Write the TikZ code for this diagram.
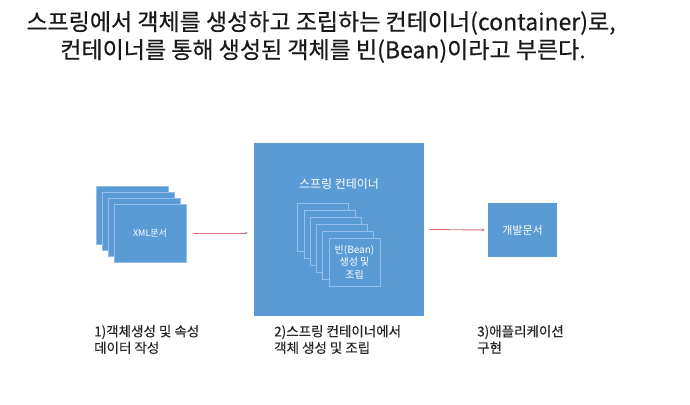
\documentclass[tikz,border=0pt]{standalone}
\usepackage{fontspec}
\setmainfont{Noto Sans CJK KR}
\newfontfamily\ttlfont[FakeBold=0.5]{Noto Sans CJK KR}
\newfontfamily\lblfont[FakeBold=0.3]{Noto Sans CJK KR}
\usetikzlibrary{arrows.meta}
\definecolor{boxblue}{RGB}{91,155,213}
\definecolor{edgeblue}{RGB}{150,190,232}
\definecolor{arrowred}{RGB}{215,110,110}
\begin{document}
\begin{tikzpicture}[x=1pt,y=-1pt,
  doc/.style={fill=boxblue, draw=edgeblue, line width=0.6pt, inner sep=0pt},
  wtext/.style={text=white, font=\fontsize{8.5}{10.5}\selectfont, align=center, inner sep=0pt},
  arr/.style={draw=arrowred, line width=0.9pt, -{Stealth[length=3pt,width=3pt]}},
  lbl/.style={font=\lblfont\fontsize{13.5}{16.5}\selectfont, align=left, anchor=north west, inner sep=0pt, text=black!85},
  ttl/.style={font=\ttlfont\fontsize{23}{26}\selectfont, inner sep=0pt, text=black!90}]
\useasboundingbox (0,0) rectangle (690,404);
% title
\node[ttl] (t1) at (321,23) {스프링에서 객체를 생성하고 조립하는 컨테이너(container)로,};
\node[ttl] (t2) at (323,51) {컨테이너를 통해 생성된 객체를 빈(Bean)이라고 부른다.};
% XML stack
\foreach \i in {0,...,3}{
  \node[doc, minimum width=72pt, minimum height=58pt] (x\i) at ({132+6*\i},{215+6*\i}) {};
}
\node[wtext, font=\fontsize{9}{11}\selectfont] (xt) at (x3.center) {XML문서};
% container
\node[doc, draw=none, minimum width=170pt, minimum height=173pt] (c) at (339,229.5) {};
\node[wtext, font=\fontsize{12}{14}\selectfont] (ct) at (339,184) {스프링 컨테이너};
\foreach \i in {0,...,5}{
  \node[doc, minimum width=51pt, minimum height=48pt] (b\i) at ({323+6.3*\i},{227+7*\i}) {};
}
\node[wtext, font=\fontsize{10}{12.5}\selectfont] (bt) at (b5.center) {빈(Bean)\\생성 및\\조립};
% dev box
\node[doc, draw=none, minimum width=69pt, minimum height=54pt] (d) at (522.5,230) {};
\node[wtext, font=\fontsize{11}{13}\selectfont] (dt) at (d.center) {개발문서};
% arrows
\draw[arr, shorten <=7pt, shorten >=6pt] (x3.east) -- (x3.east -| c.west);
\draw[arr, shorten <=5pt, shorten >=3pt] (c.east) -- (d.west);
% labels
\node[lbl] (l1) at (94,325) {1)객체생성 및 속성\\데이터 작성};
\node[lbl] (l2) at (274,325) {2)스프링 컨테이너에서\\객체 생성 및 조립};
\node[lbl] (l3) at (477,325) {3)애플리케이션\\구현};
\end{tikzpicture}
\end{document}
